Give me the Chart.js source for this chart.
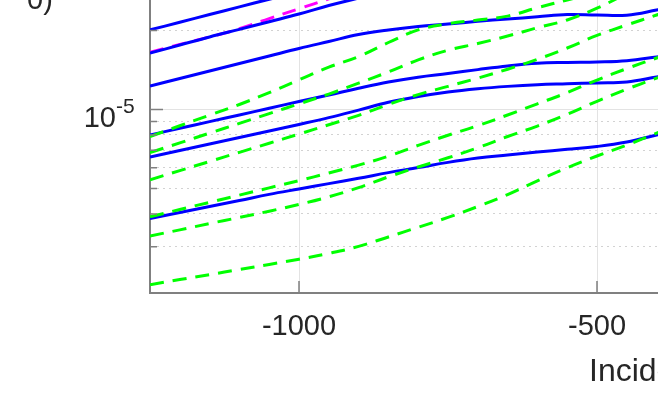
<!DOCTYPE html>
<html>
<head>
<meta charset="utf-8">
<script src="https://cdn.jsdelivr.net/npm/chart.js@4.4.1/dist/chart.umd.min.js"></script>
<style>
  html, body { margin: 0; padding: 0; background: #fff; overflow: hidden; }
  body { width: 658px; height: 409px; position: relative; }
  #chart { position: absolute; left: 0; top: -153px; }
</style>
</head>
<body>
<canvas id="chart" width="1000" height="562"></canvas>
<script>
// shared x positions (incident value)
const xValues = [-1250, -1200, -1150, -1100, -1050, -1000, -950, -900, -850, -800,
  -750, -700, -650, -600, -550, -500, -450, -400, -350];
const xTicks = [-1000, -500, 0];
const yTicks = [2e-6, 3e-6, 4e-6, 5e-6, 6e-6, 7e-6, 8e-6, 9e-6, 1e-5,
  2e-5, 3e-5, 4e-5, 5e-5, 6e-5, 7e-5, 8e-5, 9e-5, 1e-4];

// solid blue curves
const blue1 = [2.01e-5, 2.15e-5, 2.30e-5, 2.46e-5, 2.63e-5, 2.81e-5, 3.01e-5, 3.22e-5,
  null, null, null, null, null, null, null, null, null, null, null];
const blue2 = [1.64e-5, 1.76e-5, 1.89e-5, 2.02e-5, 2.16e-5, 2.31e-5, 2.49e-5, 2.66e-5, 2.85e-5,
  null, null, null, null, null, null, null, null, null, null];
const blue3 = [1.229e-5, 1.312e-5, 1.402e-5, 1.497e-5, 1.599e-5, 1.708e-5, 1.816e-5, 1.930e-5, 2.010e-5,
  2.072e-5, 2.117e-5, 2.168e-5, 2.212e-5, 2.255e-5, 2.300e-5, 2.291e-5, 2.287e-5, 2.393e-5, 2.523e-5];
const blue4 = [0.800e-5, 0.848e-5, 0.899e-5, 0.953e-5, 1.011e-5, 1.073e-5, 1.136e-5, 1.205e-5, 1.272e-5,
  1.328e-5, 1.371e-5, 1.419e-5, 1.465e-5, 1.500e-5, 1.511e-5, 1.518e-5, 1.535e-5, 1.585e-5, 1.641e-5];
const blue5 = [0.659e-5, 0.698e-5, 0.739e-5, 0.782e-5, 0.828e-5, 0.877e-5, 0.931e-5, 0.995e-5, 1.065e-5,
  1.120e-5, 1.166e-5, 1.200e-5, 1.225e-5, 1.243e-5, 1.253e-5, 1.263e-5, 1.273e-5, 1.330e-5, 1.390e-5];
const blue6 = [0.384e-5, 0.405e-5, 0.427e-5, 0.450e-5, 0.475e-5, 0.498e-5, 0.522e-5, 0.547e-5, 0.575e-5,
  0.601e-5, 0.629e-5, 0.653e-5, 0.671e-5, 0.689e-5, 0.705e-5, 0.723e-5, 0.752e-5, 0.800e-5, 0.850e-5];

// dashed green curves
const green1 = [0.789e-5, 0.867e-5, 0.952e-5, 1.045e-5, 1.160e-5, 1.297e-5, 1.450e-5, 1.590e-5, 1.800e-5,
  2.010e-5, 2.123e-5, 2.191e-5, 2.269e-5, 2.442e-5, 2.614e-5, 2.803e-5, 3.007e-5, null, null];
const green2 = [0.685e-5, 0.746e-5, 0.813e-5, 0.885e-5, 0.965e-5, 1.051e-5, 1.145e-5, 1.260e-5, 1.390e-5,
  1.545e-5, 1.682e-5, 1.784e-5, 1.905e-5, 2.049e-5, 2.193e-5, 2.432e-5, 2.754e-5, 3.060e-5, null];
const green3 = [0.540e-5, 0.585e-5, 0.634e-5, 0.687e-5, 0.744e-5, 0.806e-5, 0.875e-5, 0.950e-5, 1.045e-5,
  1.140e-5, 1.225e-5, 1.317e-5, 1.424e-5, 1.554e-5, 1.715e-5, 1.915e-5, 2.099e-5, 2.291e-5, 2.501e-5];
const green4 = [0.390e-5, 0.416e-5, 0.443e-5, 0.472e-5, 0.503e-5, 0.536e-5, 0.573e-5, 0.614e-5, 0.664e-5,
  0.730e-5, 0.798e-5, 0.868e-5, 0.953e-5, 1.051e-5, 1.160e-5, 1.295e-5, 1.432e-5, 1.571e-5, 1.715e-5];
const green5 = [0.330e-5, 0.348e-5, 0.368e-5, 0.388e-5, 0.410e-5, 0.435e-5, 0.465e-5, 0.504e-5, 0.554e-5,
  0.604e-5, 0.655e-5, 0.715e-5, 0.789e-5, 0.865e-5, 0.959e-5, 1.075e-5, 1.195e-5, 1.318e-5, 1.451e-5];
const green6 = [0.215e-5, 0.225e-5, 0.235e-5, 0.246e-5, 0.257e-5, 0.269e-5, 0.283e-5, 0.301e-5, 0.327e-5,
  0.356e-5, 0.388e-5, 0.427e-5, 0.474e-5, 0.535e-5, 0.600e-5, 0.665e-5, 0.732e-5, 0.813e-5, 0.904e-5];

// dashed magenta curve
const magenta1 = [1.65e-5, 1.77e-5, 1.89e-5, 2.03e-5, 2.22e-5, 2.42e-5, 2.64e-5, 2.88e-5, 3.14e-5,
  null, null, null, null, null, null, null, null, null, null];

const FONT = "'Liberation Sans', Arial, Helvetica, sans-serif";
const TEXT_COLOR = '#262626';
const AXIS_COLOR = '#808080';

function isDecade(v) {
  const l = Math.log10(v);
  return Math.abs(l - Math.round(l)) < 1e-6;
}

function series(values, color, dashed) {
  return {
    data: xValues.map((x, i) => ({ x, y: values[i] })),
    borderColor: color,
    borderWidth: 3,
    borderDash: dashed ? [14, 9] : [],
    pointRadius: 0,
    fill: false,
    spanGaps: false,
    tension: 0.4,
  };
}

// first dataset ends up on top
const datasets = [
  series(green1, '#00ff00', true),
  series(green2, '#00ff00', true),
  series(green3, '#00ff00', true),
  series(green4, '#00ff00', true),
  series(green5, '#00ff00', true),
  series(green6, '#00ff00', true),
  series(blue1, '#0000ff', false),
  series(blue2, '#0000ff', false),
  series(blue3, '#0000ff', false),
  series(blue4, '#0000ff', false),
  series(blue5, '#0000ff', false),
  series(blue6, '#0000ff', false),
  series(magenta1, '#ff00ff', true),
];

const matlabAxes = {
  id: 'matlabAxes',
  afterDraw(chart) {
    const { ctx, chartArea, scales } = chart;
    const x = scales.x;
    const y = scales.y;
    ctx.save();
    ctx.strokeStyle = AXIS_COLOR;
    ctx.lineWidth = 1.5;
    ctx.setLineDash([]);
    ctx.beginPath();
    yTicks.forEach((v) => {
      const py = y.getPixelForValue(v);
      const len = isDecade(v) ? 13 : 7;
      ctx.moveTo(chartArea.left, py);
      ctx.lineTo(chartArea.left + len, py);
    });
    xTicks.forEach((v) => {
      const px = x.getPixelForValue(v);
      ctx.moveTo(px, chartArea.bottom);
      ctx.lineTo(px, chartArea.bottom - 12);
    });
    ctx.stroke();

    // decade label with superscript exponent
    ctx.fillStyle = TEXT_COLOR;
    const py = y.getPixelForValue(1e-5);
    ctx.textBaseline = 'alphabetic';
    ctx.textAlign = 'right';
    ctx.font = `29px ${FONT}`;
    ctx.fillText('10', 116, py + 17);
    ctx.textAlign = 'left';
    ctx.font = `21px ${FONT}`;
    ctx.fillText('-5', 116, py + 3);

    // x axis title (only its start is in view)
    ctx.font = `32px ${FONT}`;
    ctx.fillText('Incident energy (eV)', 589, 381 + 153);

    // bottom of a text line cut by the top edge
    ctx.font = `29px ${FONT}`;
    ctx.fillText('0)', 27, 9 + 153);
    ctx.restore();
  },
};

new Chart(document.getElementById('chart').getContext('2d'), {
  type: 'line',
  data: { datasets },
  options: {
    responsive: false,
    devicePixelRatio: 1,
    animation: false,
    events: [],
    layout: { padding: { left: 0, top: 0, right: 105, bottom: 0 } },
    plugins: { legend: { display: false }, tooltip: { enabled: false } },
    scales: {
      x: {
        type: 'linear',
        min: -1250,
        max: 0,
        afterBuildTicks: (scale) => { scale.ticks = xTicks.map((v) => ({ value: v })); },
        afterFit: (scale) => { scale.height = 116; },
        ticks: {
          padding: 17,
          color: TEXT_COLOR,
          font: { family: FONT, size: 29 },
          maxRotation: 0,
          autoSkip: false,
          callback: (v) => String(v),
        },
        grid: { color: '#e3e3e3', lineWidth: 1, drawTicks: false },
        border: { color: AXIS_COLOR, width: 2 },
      },
      y: {
        type: 'logarithmic',
        min: 2e-6,
        max: 1e-4,
        afterBuildTicks: (scale) => { scale.ticks = yTicks.map((v) => ({ value: v })); },
        afterFit: (scale) => { scale.width = 150; },
        ticks: { display: false },
        grid: {
          drawTicks: false,
          lineWidth: 1,
          color: (c) => (c.tick && isDecade(c.tick.value) ? '#e3e3e3' : '#d2d2d2'),
        },
        border: {
          color: AXIS_COLOR,
          width: 2,
          dash: (c) => (c.tick && !isDecade(c.tick.value) ? [2, 4] : []),
        },
      },
    },
  },
  plugins: [matlabAxes],
});
</script>
</body>
</html>
